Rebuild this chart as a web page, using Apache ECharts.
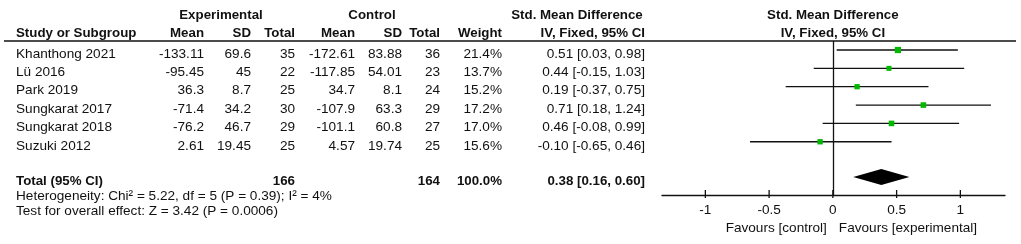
<!DOCTYPE html>
<html>
<head>
<meta charset="utf-8">
<script src="https://cdn.jsdelivr.net/npm/echarts@6/dist/echarts.min.js"></script>
<style>
  html, body { margin: 0; padding: 0; background: #fff; }
  #chart { width: 1021px; height: 244px; }
</style>
</head>
<body>
<div id="chart"></div>
<script>
// study rows
var studies = ['Khanthong 2021', 'Lü 2016', 'Park 2019', 'Sungkarat 2017', 'Sungkarat 2018', 'Suzuki 2012'];
var expMean = ['-133.11', '-95.45', '36.3', '-71.4', '-76.2', '2.61'];
var expSD = ['69.6', '45', '8.7', '34.2', '46.7', '19.45'];
var expTotal = [35, 22, 25, 30, 29, 25];
var ctlMean = ['-172.61', '-117.85', '34.7', '-107.9', '-101.1', '4.57'];
var ctlSD = ['83.88', '54.01', '8.1', '63.3', '60.8', '19.74'];
var ctlTotal = [36, 23, 24, 29, 27, 25];
var weights = [21.4, 13.7, 15.2, 17.2, 17.0, 15.6];
var smd = [0.51, 0.44, 0.19, 0.71, 0.46, -0.10];
var ciLow = [0.03, -0.15, -0.37, 0.18, -0.08, -0.65];
var ciHigh = [0.98, 1.03, 0.75, 1.24, 0.99, 0.46];

// pooled result: [smd, low, high], totals [experimental, control]
var pooled = [0.38, 0.16, 0.60];
var pooledN = [166, 164];
var heterogeneity = 'Heterogeneity: Chi² = 5.22, df = 5 (P = 0.39); I² = 4%';
var overallTest = 'Test for overall effect: Z = 3.42 (P = 0.0006)';

var xTicks = [-1, -0.5, 0, 0.5, 1];
var TOTAL_ROW = 6.92;
var Y_MIN = -0.49, Y_MAX = 7.9;

var FONT = '"Liberation Sans", Arial, sans-serif';
var INK = '#111';

var chart = echarts.init(document.getElementById('chart'));

function renderStudy(params, api) {
  var y = api.value(1);
  var p = api.coord([api.value(0), y]);
  var a = api.coord([api.value(2), y]);
  var b = api.coord([api.value(3), y]);
  var s = Math.sqrt(api.value(4)) * 1.35;
  return {
    type: 'group',
    children: [
      { type: 'line', shape: { x1: a[0], y1: a[1], x2: b[0], y2: b[1] }, style: { stroke: INK, lineWidth: 1.3 } },
      { type: 'rect', shape: { x: p[0] - s / 2, y: p[1] - s / 2, width: s, height: s }, style: { fill: '#00b800' } }
    ]
  };
}

function renderDiamond(params, api) {
  var y = api.value(1);
  var c = api.coord([api.value(0), y]);
  var a = api.coord([api.value(2), y]);
  var b = api.coord([api.value(3), y]);
  var h = 8;
  return {
    type: 'polygon',
    shape: { points: [[a[0], c[1]], [c[0], c[1] - h], [b[0], c[1]], [c[0], c[1] + h]] },
    style: { fill: '#000' }
  };
}

// tick marks crossing the axis line
function renderTick(params, api) {
  var p = api.coord([api.value(0), Y_MAX]);
  return {
    type: 'line',
    shape: { x1: p[0], y1: p[1] - 5, x2: p[0], y2: p[1] + 3 },
    style: { stroke: INK, lineWidth: 1.3 }
  };
}

var option = {
  animation: false,
  grid: { left: 662, top: 41, width: 343, height: 154 },
  xAxis: {
    type: 'value', min: -1.34, max: 1.35, position: 'bottom',
    axisLine: { onZero: false, lineStyle: { color: INK, width: 1.3 } },
    axisTick: { show: false },
    axisLabel: { customValues: xTicks, margin: 8, color: INK, fontSize: 13.6, fontFamily: FONT },
    splitLine: { show: false }
  },
  yAxis: {
    type: 'value', min: Y_MIN, max: Y_MAX, inverse: true, show: false
  },
  series: [{
    type: 'custom',
    renderItem: renderStudy,
    encode: { x: [0, 2, 3], y: 1 },
    data: studies.map(function (s, i) { return [smd[i], i, ciLow[i], ciHigh[i], weights[i]]; }),
    markLine: {
      silent: true, symbol: 'none', label: { show: false },
      lineStyle: { color: INK, width: 1.3, type: 'solid' },
      data: [{ xAxis: 0 }]
    }
  }, {
    type: 'custom',
    renderItem: renderDiamond,
    encode: { x: [0, 2, 3], y: 1 },
    data: [[pooled[0], TOTAL_ROW, pooled[1], pooled[2]]]
  }, {
    type: 'custom',
    renderItem: renderTick,
    clip: false,
    encode: { x: 0 },
    data: xTicks.map(function (v) { return [v]; })
  }]
};

chart.setOption(option);

function txt(x, y, str, align, bold) {
  return {
    type: 'text', x: x, y: y, silent: true,
    style: {
      text: String(str), fill: INK,
      font: (bold ? 'bold 13.3px ' : '13.6px ') + FONT,
      align: align || 'left', verticalAlign: 'middle',
      textAlign: align || 'left', textVerticalAlign: 'middle'
    }
  };
}

function rowY(v) {
  return chart.convertToPixel({ yAxisIndex: 0 }, v) + 4;
}

var x0 = chart.convertToPixel({ xAxisIndex: 0 }, 0);
var g = [];

// header
g.push(txt(221, 15, 'Experimental', 'center', true));
g.push(txt(372, 15, 'Control', 'center', true));
g.push(txt(577, 15, 'Std. Mean Difference', 'center', true));
g.push(txt(x0, 15, 'Std. Mean Difference', 'center', true));
g.push(txt(16, 33, 'Study or Subgroup', 'left', true));
g.push(txt(204, 33, 'Mean', 'right', true));
g.push(txt(251, 33, 'SD', 'right', true));
g.push(txt(295, 33, 'Total', 'right', true));
g.push(txt(355, 33, 'Mean', 'right', true));
g.push(txt(402, 33, 'SD', 'right', true));
g.push(txt(440, 33, 'Total', 'right', true));
g.push(txt(502, 33, 'Weight', 'right', true));
g.push(txt(645, 33, 'IV, Fixed, 95% CI', 'right', true));
g.push(txt(x0, 33, 'IV, Fixed, 95% CI', 'center', true));
g.push({ type: 'line', silent: true, shape: { x1: 4, y1: 41, x2: 1016, y2: 41 }, style: { stroke: INK, lineWidth: 1.3 } });

// study rows
studies.forEach(function (s, i) {
  var y = rowY(i);
  g.push(txt(16, y, s, 'left'));
  g.push(txt(204, y, expMean[i], 'right'));
  g.push(txt(251, y, expSD[i], 'right'));
  g.push(txt(295, y, expTotal[i], 'right'));
  g.push(txt(355, y, ctlMean[i], 'right'));
  g.push(txt(402, y, ctlSD[i], 'right'));
  g.push(txt(440, y, ctlTotal[i], 'right'));
  g.push(txt(502, y, weights[i].toFixed(1) + '%', 'right'));
  g.push(txt(645, y, smd[i].toFixed(2) + ' [' + ciLow[i].toFixed(2) + ', ' + ciHigh[i].toFixed(2) + ']', 'right'));
});

// total
var ty = rowY(TOTAL_ROW);
g.push(txt(16, ty, 'Total (95% CI)', 'left', true));
g.push(txt(295, ty, pooledN[0], 'right', true));
g.push(txt(440, ty, pooledN[1], 'right', true));
g.push(txt(502, ty, '100.0%', 'right', true));
g.push(txt(645, ty, pooled[0].toFixed(2) + ' [' + pooled[1].toFixed(2) + ', ' + pooled[2].toFixed(2) + ']', 'right', true));
g.push(txt(16, ty + 15.5, heterogeneity, 'left'));
g.push(txt(16, ty + 30.5, overallTest, 'left'));

// favours
g.push(txt(x0 - 6, 228, 'Favours [control]', 'right'));
g.push(txt(x0 + 6, 228, 'Favours [experimental]', 'left'));

chart.setOption({ graphic: g });
</script>
</body>
</html>
